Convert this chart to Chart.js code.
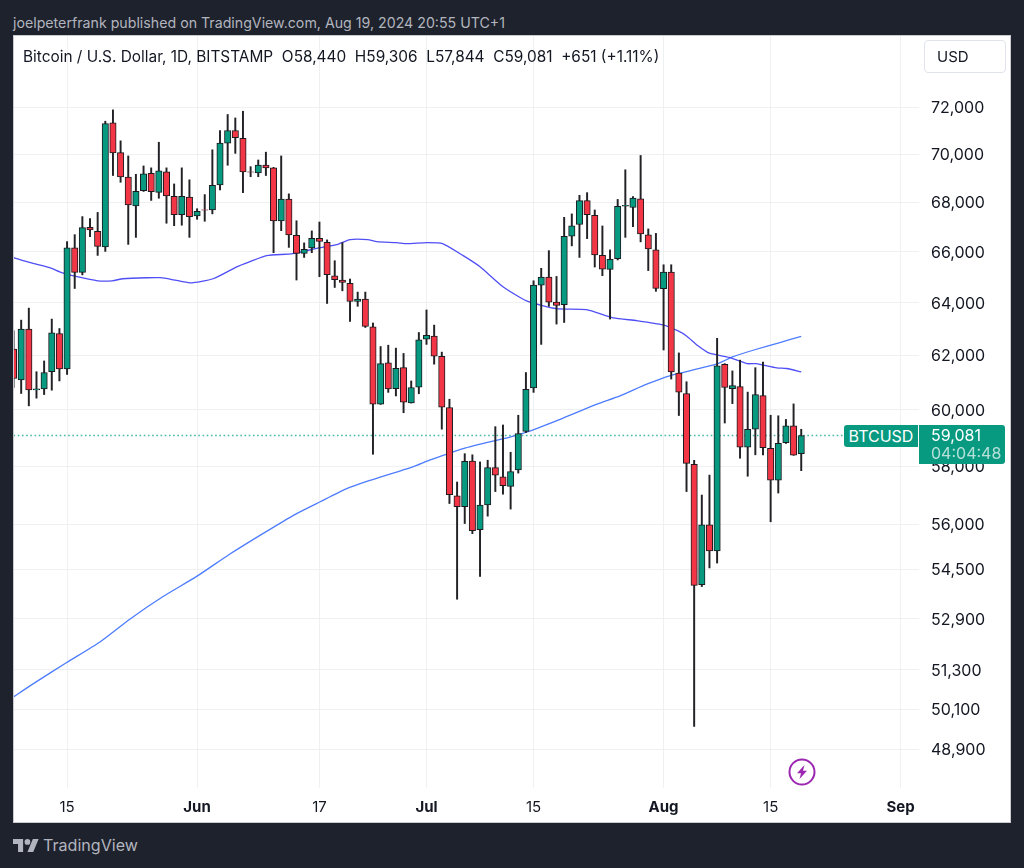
<!DOCTYPE html>
<html lang="en">
<head>
<meta charset="UTF-8">
<title>BTCUSD daily</title>
<script src="https://cdn.jsdelivr.net/npm/chart.js"></script>
<style>
    html, body { margin: 0; padding: 0; }
    body {
        width: 1024px; height: 868px; overflow: hidden; position: relative;
        background: #1e222d; font-family: Inter, sans-serif; color: #131722;
    }
    .abs { position: absolute; white-space: pre; }
    #publisher { left: 13px; top: 13px; font-size: 14.2px; line-height: 20px; color: #b2b5be; }
    #panel { left: 13px; top: 35px; width: 998px; height: 788px; background: #fff; }
    #panel canvas { display: block; }
    #panel::after { content: ''; position: absolute; inset: 0; border: 1px solid #c9cbd1; }
    #legend { left: 23px; top: 47px; font-size: 15.4px; line-height: 20px; }
    #currency {
        left: 924px; top: 40px; width: 80px; height: 31px; line-height: 31px; box-sizing: content-box;
        border: 1px solid #e0e3eb; border-radius: 4px; font-size: 15px; text-indent: 12px;
    }
    .tag { background: #089981; color: #fff; font-size: 16px; }
    #symbol { left: 844px; top: 425px; width: 74px; height: 22px; line-height: 22px; text-align: center; border-radius: 3px 0 0 3px; }
    #lastbox { left: 919px; top: 425px; width: 86px; height: 39px; border-radius: 0 3px 3px 0; }
    #lastprice { left: 931px; top: 426px; line-height: 19px; color: #fff; font-size: 16px; }
    #countdown { left: 931px; top: 444px; line-height: 19px; color: rgba(255,255,255,.7); font-size: 16px; }
    #brand { left: 43px; top: 834px; font-size: 16.1px; line-height: 22px; color: #b2b5be; }
</style>
</head>
<body>
<div class="abs" id="publisher">joelpeterfrank published on TradingView.com, Aug 19, 2024 20:55 UTC+1</div>
<div class="abs" id="panel"><canvas id="chart" width="998" height="788"></canvas></div>
<div class="abs" id="legend">Bitcoin / U.S. Dollar, 1D, BITSTAMP  O58,440  H59,306  L57,844  C59,081  +651 (+1.11%)</div>
<div class="abs" id="currency">USD</div>
<div class="abs tag" id="symbol">BTCUSD</div>
<div class="abs tag" id="lastbox"></div>
<div class="abs" id="lastprice">59,081</div>
<div class="abs" id="countdown">04:04:48</div>
<svg class="abs" style="left:787px;top:757px" width="30" height="30" viewBox="0 0 30 30">
    <circle cx="15" cy="15" r="12.5" fill="none" stroke="#9c27b0" stroke-width="2"/>
    <path d="M17.5 8 L10 16.2 H14 L12.5 22 L20 13.8 H16 Z" fill="#9c27b0"/>
</svg>
<svg class="abs" style="left:13px;top:838px" width="26" height="15" viewBox="0 4 36 18">
    <path d="M14 22H7V11H0V4h14v18zM28 22h-8l7.5-18h8L28 22z" fill="#b2b5be"/>
    <circle cx="20" cy="8" r="4" fill="#b2b5be"/>
</svg>
<div class="abs" id="brand">TradingView</div>

<script>
// daily candles, May 8 to Aug 19 2024, one entry per day
const opens = [
    62240, 61100, 63000, 60730, 60770, 61400, 62830, 61500, 66160, 65190, 66980, 66820, 66200,
    71340, 70070, 69040, 67850, 68480, 69200, 68410, 69260, 68250, 67500, 68220, 67450, 67700,
    67690, 68720, 70470, 71010, 70680, 69260, 69220, 69550, 69430, 67240, 68140, 66660, 65940,
    66160, 66540, 66380, 65050, 64890, 64760, 64060, 64150, 63080, 60210, 61730, 60780, 61550,
    60260, 60830, 62620, 62730, 61970, 60090, 56970, 56600, 58180, 55820, 56660, 57950, 57630,
    57300, 57870, 59230, 60800, 64690, 65010, 64030, 63930, 66630, 67100, 68070, 67470, 65860,
    65310, 65730, 67840, 67790, 68150, 66680, 66080, 64550, 65200, 61350, 60600, 58070, 54000,
    55990, 55110, 61670, 60780, 60850, 58670, 59310, 60520, 58630, 57510, 58830, 59430, 58440
];
const highs = [
    62930, 63340, 63800, 61400, 61800, 63380, 63020, 66410, 66690, 67420, 67340, 67590, 71410,
    71900, 70570, 69930, 69160, 69510, 69430, 70510, 69430, 68760, 69430, 68930, 67740, 68320,
    70190, 71010, 71700, 71550, 71840, 69480, 69760, 70090, 69450, 69930, 68350, 67250, 66360,
    66840, 67200, 66480, 65650, 66370, 64930, 64420, 64420, 63230, 62340, 62390, 62280, 62080,
    61060, 62870, 63730, 63150, 62130, 60390, 57450, 58440, 58400, 58150, 58210, 59400, 59460,
    58490, 59810, 61370, 64860, 65350, 66050, 65030, 67390, 67530, 68290, 68400, 67690, 67040,
    66080, 68120, 69350, 68240, 69950, 66920, 66740, 65490, 65490, 62100, 61030, 58210, 57000,
    57690, 62650, 61700, 61430, 61830, 60650, 61550, 61760, 59810, 59790, 59660, 60220, 59306
];
const lows = [
    60820, 60600, 60150, 60430, 60560, 60720, 61060, 61300, 64560, 65090, 66610, 65860, 66020,
    69110, 68830, 66300, 66580, 68450, 68080, 68170, 67150, 67050, 67070, 66580, 67310, 67230,
    67530, 68510, 69540, 70040, 68400, 69060, 69060, 69110, 65970, 66850, 66180, 64890, 65780,
    65970, 65020, 63980, 64600, 64470, 63290, 63870, 63060, 58420, 60200, 60640, 60510, 59900,
    60250, 60590, 62420, 61680, 59310, 56710, 53530, 56030, 55690, 54270, 56280, 57120, 57030,
    56520, 57760, 59190, 60640, 62420, 63870, 63190, 63250, 66240, 65780, 66530, 65400, 65060,
    63380, 65680, 66580, 67010, 66400, 65260, 64450, 62210, 61130, 59800, 57120, 49580, 53940,
    54550, 54710, 59530, 60230, 58280, 57650, 58400, 58400, 56090, 57070, 58800, 58380, 57844
];
const closes = [
    61150, 63000, 60730, 60770, 61370, 62860, 61500, 66160, 65190, 66970, 66880, 66220, 71310,
    70060, 69050, 67900, 68450, 69180, 68440, 69310, 68270, 67500, 68250, 67420, 67630, 67680,
    68700, 70470, 71010, 70710, 69260, 69250, 69550, 69430, 67240, 68140, 66680, 65940, 66100,
    66540, 66420, 65100, 64900, 64800, 64060, 64150, 63100, 60210, 61700, 60770, 61530, 60280,
    60820, 62590, 62760, 61980, 60100, 57010, 56600, 58170, 55790, 56660, 57950, 57690, 57320,
    57810, 59150, 60750, 64690, 65010, 64030, 63900, 66620, 67050, 68070, 67500, 65880, 65320,
    65700, 67840, 67880, 68180, 66720, 66120, 64560, 65200, 61390, 60650, 58100, 53980, 55990,
    55110, 61620, 60820, 60890, 58670, 59300, 60560, 58650, 57510, 58810, 59430, 58390, 59081
];

// moving averages, read at the day positions where the curve bends
const ma50Days = [0, 2.2, 4.8, 6.3, 8.3, 11, 12.9, 14.3, 17.5, 19.2, 20.9, 23.1, 26.1, 29.2, 30.9, 33.1, 36.5, 40.1, 42.3, 44, 46.3, 47.5, 50.1, 51.4, 54.1, 56.1, 58.8, 61, 64, 67.1, 71, 74.9, 78.4, 81.5, 84.9, 86.9, 88, 89.5, 91, 93.6, 95.9, 97.1, 99.8, 101.1, 103];
const ma50Values = [65770, 65570, 65370, 65180, 65020, 64860, 64860, 64940, 64980, 64980, 64900, 64780, 64940, 65410, 65610, 65850, 65930, 66170, 66290, 66490, 66490, 66410, 66370, 66330, 66370, 66330, 65850, 65410, 64630, 64080, 63780, 63740, 63430, 63320, 63160, 62930, 62740, 62370, 62090, 61930, 61700, 61700, 61540, 61520, 61390];
const ma200Days = [0, 2.5, 6.9, 11.3, 15.2, 19.5, 24, 28.3, 32.6, 36.9, 40.1, 43.5, 46.1, 52.2, 54.4, 58.8, 64.9, 67.5, 71.8, 76.3, 79.3, 82.8, 85.8, 91.9, 94, 96.7, 100.2, 103];
const ma200Values = [50470, 50860, 51520, 52170, 52890, 53610, 54280, 55010, 55690, 56350, 56770, 57210, 57460, 57980, 58210, 58620, 59030, 59240, 59700, 60210, 60510, 60940, 61250, 61680, 61950, 62200, 62490, 62720];

const lastPrice = 59081;
const lastDays = [0, 108.5];

const priceTicks = [72000, 70000, 68000, 66000, 64000, 62000, 60000, 58000, 56000, 54500, 52900, 51300, 50100, 48900];
const timeTickDays = [7, 24, 40, 54, 68, 85, 99, 116];
const timeTickLabels = ['15', 'Jun', '17', 'Jul', '15', 'Aug', '15', 'Sep'];
const monthLabels = ['Jun', 'Jul', 'Aug', 'Sep'];

const up = '#089981';
const down = '#f23645';
const gridColor = '#eff0f2';

const isUp = opens.map((o, i) => closes[i] >= o);

new Chart(document.getElementById('chart'), {
    data: {
        datasets: [
            {
                type: 'bar',
                data: opens.map((o, i) => ({ x: i, y: [o, closes[i]] })),
                backgroundColor: isUp.map(u => u ? up : down),
                borderColor: '#1a1a1f',
                borderWidth: 1,
                borderSkipped: false,
                barThickness: 6.4,
                grouped: false,
                order: 1
            },
            {
                type: 'bar',
                data: lows.map((l, i) => ({ x: i, y: [l, highs[i]] })),
                backgroundColor: '#222226',
                borderWidth: 0,
                barThickness: 1.3,
                grouped: false,
                order: 2
            },
            {
                type: 'line',
                data: ma50Days.map((d, i) => ({ x: d, y: ma50Values[i] })),
                borderColor: '#4f4ff5',
                borderWidth: 1.3,
                pointRadius: 0,
                tension: 0.2,
                order: 3
            },
            {
                type: 'line',
                data: ma200Days.map((d, i) => ({ x: d, y: ma200Values[i] })),
                borderColor: '#4d7cfe',
                borderWidth: 1.3,
                pointRadius: 0,
                tension: 0.2,
                order: 3
            },
            {
                type: 'line',
                data: lastDays.map(d => ({ x: d, y: lastPrice })),
                borderColor: '#45b8a3',
                borderWidth: 1.5,
                borderDash: [1.6, 2.6],
                pointRadius: 0,
                order: 4
            }
        ]
    },
    options: {
        responsive: false,
        animation: false,
        layout: { padding: 0 },
        plugins: { legend: { display: false }, tooltip: { enabled: false } },
        scales: {
            x: {
                type: 'linear',
                offset: false,
                min: -0.07,
                max: 118.4,
                border: { display: false },
                grid: { color: gridColor, drawTicks: false, offset: false },
                afterBuildTicks: scale => { scale.ticks = timeTickDays.map(d => ({ value: d })); },
                afterFit: scale => { scale.height = 35; scale.paddingLeft = 0; scale.paddingRight = 0; },
                ticks: {
                    autoSkip: false,
                    maxRotation: 0,
                    padding: 10,
                    color: '#131722',
                    font: ctx => {
                        const label = timeTickLabels[ctx.index];
                        return { family: 'Inter', size: 15, weight: monthLabels.includes(label) ? 'bold' : 'normal' };
                    },
                    callback: (value, index) => timeTickLabels[index]
                }
            },
            y: {
                type: 'logarithmic',
                position: 'right',
                min: 47772,
                max: 75220,
                border: { display: false },
                grid: { color: gridColor, drawTicks: false },
                afterBuildTicks: scale => { scale.ticks = priceTicks.map(v => ({ value: v })); },
                afterFit: scale => { scale.width = 92; scale.paddingTop = 0; scale.paddingBottom = 0; },
                ticks: {
                    autoSkip: false,
                    padding: 12,
                    labelOffset: 1,
                    color: '#131722',
                    font: { family: 'Inter', size: 16 },
                    callback: value => value.toLocaleString('en-US')
                }
            }
        }
    }
});
</script>
</body>
</html>
